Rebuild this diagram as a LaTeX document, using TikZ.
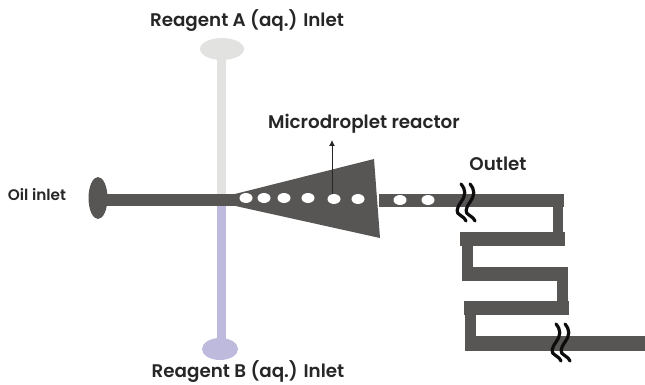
\documentclass[tikz,border=0pt]{standalone}
\usepackage{fontspec}
\setmainfont{Poppins SemiBold}
\usetikzlibrary{arrows.meta,shapes.geometric}
\definecolor{chan}{RGB}{88,86,85}
\definecolor{reagA}{RGB}{226,227,224}
\definecolor{reagB}{RGB}{190,186,222}
\tikzset{
  lab/.style={font=\fontsize{18.3}{22}\selectfont,text=black!85,inner sep=0pt},
  labs/.style={font=\fontsize{15.3}{20}\selectfont,text=black!85,inner sep=0pt},
  chanfill/.style={fill=chan,draw=none},
  drop/.style={ellipse,fill=white,draw=none,minimum width=13pt,minimum height=10pt,inner sep=0pt},
  squig/.style={draw=black!95,line width=3.2pt,line cap=round,line join=round}
}
\newcommand{\mysquig}[2]{%
  \draw[squig,shift={(#1,#2)}] (0,0) .. controls (5,6) and (5,11) .. (0,18) .. controls (-5,25) and (-5,29) .. (-1,31) .. controls (1,33) and (3,33) .. (5,37);
  \draw[squig,shift={(#1+9,#2)}] (0,0) .. controls (5,6) and (5,11) .. (0,18) .. controls (-5,25) and (-5,29) .. (-1,31) .. controls (1,33) and (3,33) .. (5,37);
}
\begin{document}
\begin{tikzpicture}[x=1pt,y=-1pt]
\useasboundingbox (0,0) rectangle (645,385);
% reagent channels
\fill[reagA] (222,49) ellipse (22 and 11);
\fill[reagA] (217,55) rectangle (226,195);
\fill[reagB] (220,349) ellipse (18 and 11);
\fill[reagB] (217,205) rectangle (226,345);
% oil channel
\fill[chan] (98,198) ellipse (9.5 and 21);
\fill[chanfill] (104,194) rectangle (236,206);
% reactor
\fill[chanfill] (231,195) -- (374,159) -- (380,238) -- (231,205) -- cycle;
% outlet and serpentine
\fill[chanfill] (379,194) rectangle (564,207);
\fill[chanfill] (553,207) rectangle (563,232);
\fill[chanfill] (460,232) rectangle (565,246);
\fill[chanfill] (462,246) rectangle (473,267);
\fill[chanfill] (462,267) rectangle (568,281);
\fill[chanfill] (557,281) rectangle (568,301);
\fill[chanfill] (464,301) rectangle (569,315);
\fill[chanfill] (465,315) rectangle (476,336);
\fill[chanfill] (465,336) rectangle (645,351);
% droplets
\node[drop] (d1) at (246,198) {};
\node[drop] (d2) at (264,198) {};
\node[drop] (d3) at (284,198) {};
\node[drop] (d4) at (308,198) {};
\node[drop] (d5) at (334,199) {};
\node[drop] (d6) at (358,199) {};
\node[drop] (d7) at (400,200) {};
\node[drop] (d8) at (428,200) {};
% squiggles
\mysquig{461}{184}
\mysquig{556}{324}
% labels
\node[lab] (la) at (247,21) {Reagent A (aq.) Inlet};
\node[lab] (lb) at (248,372) {Reagent B (aq.) Inlet};
\node[labs] (lo) at (37,195) {Oil inlet};
\node[lab] (lm) at (364,124) {Microdroplet reactor};
\node[lab] (lu) at (498,164) {Outlet};
\coordinate (tip) at (332,140);
\draw[-{Latex[length=6pt,width=6pt]},line width=1pt,black!85] (d5.north -| tip) -- (tip);
\end{tikzpicture}
\end{document}
